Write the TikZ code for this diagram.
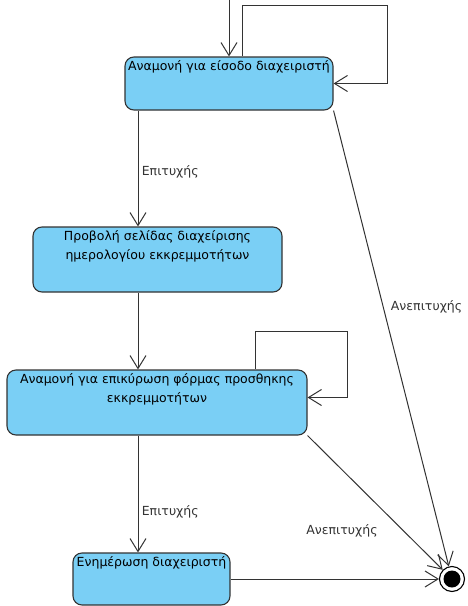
\documentclass[tikz,border=0pt]{standalone}
\usepackage{fontspec}
\setmainfont{DejaVu Sans}
\usetikzlibrary{arrows.meta}
\definecolor{stblue}{HTML}{7ACFF5}
\definecolor{stline}{HTML}{333333}
\begin{document}
\begin{tikzpicture}[x=1pt,y=-1pt,font=\fontsize{12.5}{19}\selectfont,
  state/.style={rectangle,rounded corners=9pt,draw=stline,fill=stblue,line width=1.1pt,inner sep=0pt},
  txt/.style={anchor=north,align=center,inner sep=4pt},
  ar/.style={-{Straight Barb[length=13pt,width=16pt]},stline,line width=1pt},
  fin/.style={circle,draw=black,fill=white,line width=1.1pt,minimum size=25pt,inner sep=0pt},
  findot/.style={circle,fill=black,minimum size=17pt,inner sep=0pt}]
\useasboundingbox (0,0) rectangle (467,606);
% states
\node[state,minimum width=208,minimum height=53,label={[txt]north:Αναμονή για είσοδο διαχειριστή}] (wlogin) at (229,83.5) {};
\node[state,minimum width=249,minimum height=65,label={[txt]north:Προβολή σελίδας διαχείρισης\\ημερολογίου εκκρεμμοτήτων}] (calview) at (157.5,259.5) {};
\node[state,minimum width=300,minimum height=65,label={[txt]north:Αναμονή για επικύρωση φόρμας προσθηκης\\εκκρεμμοτήτων}] (wform) at (157,402.5) {};
\node[state,minimum width=157,minimum height=52,label={[txt]north:Ενημέρωση διαχειριστή}] (notify) at (151.5,579) {};
% final state
\node[fin] (end) at (452,579) {};
\node[findot] (enddot) at (end.center) {};
\coordinate (init) at (229,-2);
\coordinate (loopa) at (387,5);
\coordinate (loopb) at (347,331);
% transitions
\draw[ar] (init) -- (wlogin.north);
\draw[ar] ([xshift=13]wlogin.north) |- (loopa) |- (wlogin.east);
\draw[ar] ([xshift=-91]wlogin.south) -- node[right,pos=0.53]{Επιτυχής} ([xshift=-19.5]calview.north);
\draw[ar] ([xshift=-19.5]calview.south) -- ([xshift=-19]wform.north);
\draw[ar] ([xshift=98]wform.north) |- (loopb) |- ([yshift=5]wform.east);
\draw[ar] ([xshift=-19]wform.south) -- node[right,pos=0.65]{Επιτυχής} ([xshift=-13.5]notify.north);
\draw[ar] (notify.east) -- (end);
\draw[ar] (wlogin.south east) -- node[right=4pt,pos=0.43]{Ανεπιτυχής} (end);
\draw[ar] (wform.south east) -- node[left=22pt,pos=0.71]{Ανεπιτυχής} (end);
\end{tikzpicture}
\end{document}
